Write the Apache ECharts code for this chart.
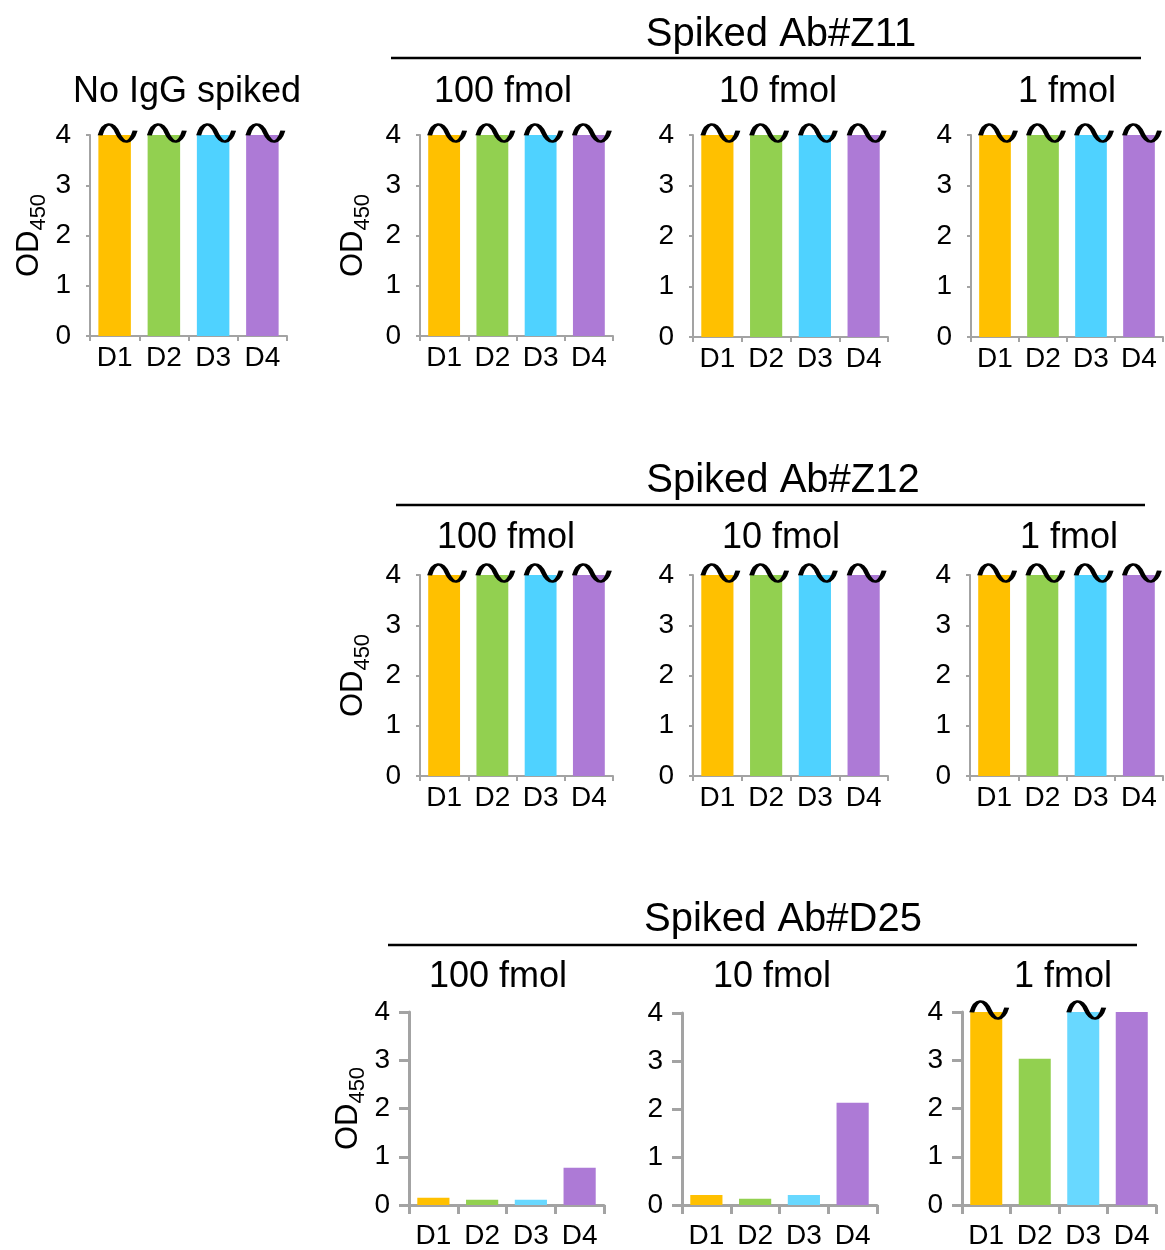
<!DOCTYPE html>
<html>
<head>
<meta charset="utf-8">
<script src="https://cdn.jsdelivr.net/npm/echarts@6/dist/echarts.min.js"></script>
<style>
html,body{margin:0;padding:0;background:#fff;}
#chart{width:1165px;height:1250px;}
</style>
</head>
<body>
<div id="chart"></div>
<script>
// ---- data ----
const categories = ['D1', 'D2', 'D3', 'D4'];
const yTicks = [0, 1, 2, 3, 4];
const barColors = ['#FFC000', '#92D050', '#4FD2FF', '#AD7AD6'];
const barColorsRow3 = ['#FFC000', '#92D050', '#68D8FF', '#AD7AD6'];

// OD450 values (values above 4 are shown capped at 4 with a break mark)
const noIgG      = [4, 4, 4, 4];
const z11_100    = [4, 4, 4, 4];
const z11_10     = [4, 4, 4, 4];
const z11_1      = [4, 4, 4, 4];
const z12_100    = [4, 4, 4, 4];
const z12_10     = [4, 4, 4, 4];
const z12_1      = [4, 4, 4, 4];
const d25_100    = [0.15, 0.11, 0.11, 0.77];
const d25_10     = [0.21, 0.13, 0.21, 2.13];
const d25_1      = [4, 3.03, 4, 4];

// off-scale flags (1 = value exceeds axis maximum; a break mark is drawn)
const noIgG_over   = [1, 1, 1, 1];
const z11_100_over = [1, 1, 1, 1];
const z11_10_over  = [1, 1, 1, 1];
const z11_1_over   = [1, 1, 1, 1];
const z12_100_over = [1, 1, 1, 1];
const z12_10_over  = [1, 1, 1, 1];
const z12_1_over   = [1, 1, 1, 1];
const d25_100_over = [0, 0, 0, 0];
const d25_10_over  = [0, 0, 0, 0];
const d25_1_over   = [1, 0, 1, 0];

const titleTexts = ['No IgG spiked', '100 fmol', '10 fmol', '1 fmol'];
const groupTitles = ['Spiked Ab#Z11', 'Spiked Ab#Z12', 'Spiked Ab#D25'];

// ---- layout ----
const FONT = "'Liberation Sans', Arial, sans-serif";
const panels = [
  {vals: noIgG,   over: noIgG_over,   left: 90,  top: 135, w: 197, h: 201, yName: true, gap: 40, row: 0},
  {vals: z11_100, over: z11_100_over, left: 420, top: 135, w: 193, h: 201, yName: true, gap: 46, row: 0},
  {vals: z11_10,  over: z11_10_over,  left: 693, top: 135, w: 195, h: 202, yName: false, gap: 0, row: 0},
  {vals: z11_1,   over: z11_1_over,   left: 971, top: 135, w: 192, h: 202, yName: false, gap: 0, row: 0},
  {vals: z12_100, over: z12_100_over, left: 420, top: 575, w: 193, h: 201, yName: true, gap: 46, row: 1},
  {vals: z12_10,  over: z12_10_over,  left: 693, top: 575, w: 195, h: 201, yName: false, gap: 0, row: 1},
  {vals: z12_1,   over: z12_1_over,   left: 970, top: 575, w: 193, h: 201, yName: false, gap: 0, row: 1},
  {vals: d25_100, over: d25_100_over, left: 409, top: 1012, w: 195, h: 195, yName: true, gap: 40, row: 2},
  {vals: d25_10,  over: d25_10_over,  left: 682, top: 1013, w: 195, h: 195, yName: false, gap: 0, row: 2},
  {vals: d25_1,   over: d25_1_over,   left: 962, top: 1012, w: 194, h: 196, yName: false, gap: 0, row: 2}
];

const TILDE = 'path://M0,10 C4,-2 12,-2 17,8 C22,18 30,18 34,6';

const grid = [], xAxis = [], yAxis = [], series = [];
panels.forEach((p, i) => {
  const r3 = p.row === 2;
  const axisColor = '#A3A3A3';
  const colors = r3 ? barColorsRow3 : barColors;
  grid.push({left: p.left, top: p.top, width: p.w, height: p.h, containLabel: false});
  xAxis.push({
    type: 'category', gridIndex: i, data: categories,
    axisLine: {show: true, lineStyle: {color: axisColor, width: r3 ? 3 : 2}},
    axisTick: {show: true, alignWithLabel: false, length: r3 ? 9 : 5, lineStyle: {color: axisColor, width: r3 ? 3 : 2}},
    axisLabel: {color: '#000', fontSize: 28, fontFamily: FONT, margin: r3 ? 17 : 8, interval: 0}
  });
  yAxis.push({
    type: 'value', gridIndex: i, min: yTicks[0], max: yTicks[yTicks.length - 1], interval: 1,
    axisLine: {show: true, lineStyle: {color: axisColor, width: r3 ? 3 : 2}},
    axisTick: {show: true, length: r3 ? 10 : 4, lineStyle: {color: axisColor, width: r3 ? 3 : 2}},
    splitLine: {show: false},
    axisLabel: {color: '#000', fontSize: 28, fontFamily: FONT, margin: 19},
    name: p.yName ? '{od|OD}{sub|450}' : '',
    nameLocation: 'middle', nameRotate: 90, nameGap: p.gap,
    nameTextStyle: {
      fontFamily: FONT,
      rich: {
        od: {fontSize: 31, fontFamily: FONT, color: '#000'},
        sub: {fontSize: 22, fontFamily: FONT, color: '#000', padding: [20, 0, 0, 0]}
      }
    }
  });
  series.push({
    type: 'bar', xAxisIndex: i, yAxisIndex: i, barWidth: '66%',
    data: p.vals.map((v, k) => ({value: v, itemStyle: {color: colors[k]}})),
    silent: true
  });
  series.push({
    type: 'scatter', xAxisIndex: i, yAxisIndex: i, z: 5,
    symbol: TILDE, symbolSize: [35, 17], symbolOffset: [3, -2],
    itemStyle: {color: 'rgba(0,0,0,0)', borderColor: '#000', borderWidth: 3.5, opacity: 1},
    data: p.over.map((o, k) => o ? p.vals[k] : '-'),
    silent: true
  });
});

const graphic = [];
function txt(s, x, y, size) {
  graphic.push({type: 'text', x: x, y: y, style: {text: s, fontSize: size, fontFamily: FONT, fill: '#000', textAlign: 'center', textVerticalAlign: 'middle'}});
}
function hline(x1, x2, y) {
  graphic.push({type: 'line', shape: {x1: x1, y1: y, x2: x2, y2: y}, style: {stroke: '#000', lineWidth: 2.5}});
}
txt(titleTexts[0], 187, 92, 36);
// row 1
txt(groupTitles[0], 781, 35, 40); hline(391, 1141, 58);
txt(titleTexts[1], 503, 92, 36); txt(titleTexts[2], 778, 92, 36); txt(titleTexts[3], 1067, 92, 36);
// row 2
txt(groupTitles[1], 783, 481, 40); hline(396, 1145, 505);
txt(titleTexts[1], 506, 538, 36); txt(titleTexts[2], 781, 538, 36); txt(titleTexts[3], 1069, 538, 36);
// row 3
txt(groupTitles[2], 783, 920, 40); hline(388, 1137, 945);
txt(titleTexts[1], 498, 977, 36); txt(titleTexts[2], 772, 977, 36); txt(titleTexts[3], 1063, 977, 36);

const chart = echarts.init(document.getElementById('chart'), null, {renderer: 'canvas'});
chart.setOption({
  animation: false,
  backgroundColor: '#fff',
  textStyle: {fontFamily: FONT},
  grid: grid, xAxis: xAxis, yAxis: yAxis, series: series, graphic: graphic
});
</script>
</body>
</html>
